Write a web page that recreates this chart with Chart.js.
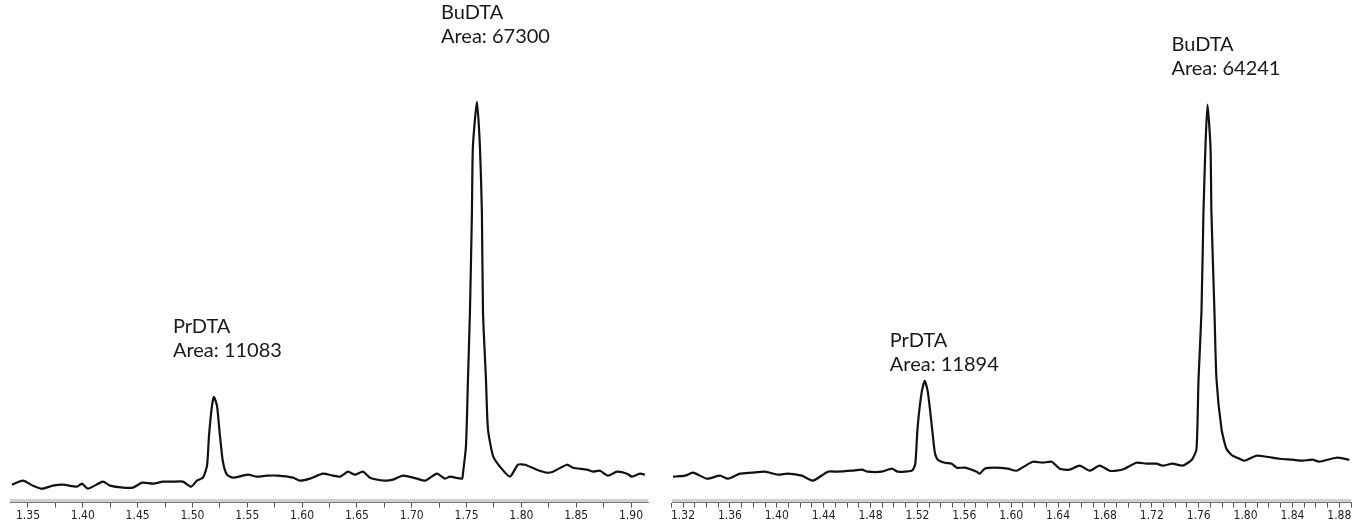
<!DOCTYPE html>
<html>
<head>
<meta charset="utf-8">
<script src="https://cdn.jsdelivr.net/npm/chart.js@4.4.1/dist/chart.umd.min.js"></script>
<style>
  html, body { margin: 0; padding: 0; background: #fff; }
  #left { position: absolute; left: 0; top: 0; width: 660px; height: 527px; }
  #right { position: absolute; left: 665px; top: 0; width: 687px; height: 527px; }
</style>
</head>
<body>
<div id="left"><canvas id="leftChart"></canvas></div>
<div id="right"><canvas id="rightChart"></canvas></div>
<script>
// retention time (min) and detector signal (a.u.)
const leftTimes = [1.3354, 1.3454, 1.3546, 1.3628, 1.3728, 1.3819, 1.3947, 1.3992, 1.4047, 1.4184,
  1.4248, 1.4366, 1.4458, 1.4540, 1.4640, 1.4731, 1.4822, 1.4914, 1.4987, 1.5041,
  1.5096, 1.5133, 1.5151, 1.5178, 1.5196, 1.5224, 1.5251, 1.5278, 1.5315, 1.5370,
  1.5506, 1.5588, 1.5680, 1.5780, 1.5917, 1.5981, 1.6072, 1.6190, 1.6282, 1.6346,
  1.6418, 1.6482, 1.6555, 1.6619, 1.6756, 1.6829, 1.6920, 1.7048, 1.7121, 1.7230,
  1.7303, 1.7349, 1.7458, 1.7467, 1.7495, 1.7513, 1.7531, 1.7549, 1.7558, 1.7595,
  1.7622, 1.7640, 1.7650, 1.7677, 1.7695, 1.7741, 1.7805, 1.7896, 1.7969, 1.8033,
  1.8142, 1.8233, 1.8288, 1.8416, 1.8470, 1.8598, 1.8653, 1.8717, 1.8790, 1.8872,
  1.8963, 1.9009, 1.9082, 1.9127];
const leftSignal = [18, 22, 17, 14, 17, 18, 16, 19, 14, 21,
  17, 15, 15, 20, 19, 21, 21, 21, 16, 22,
  25, 37, 67, 97, 106, 97, 67, 41, 28, 25,
  28, 26, 27, 27, 25, 22, 24, 29, 27, 26,
  31, 28, 31, 25, 22, 23, 27, 24, 22, 29,
  24, 26, 24, 29, 57, 124, 191, 291, 357, 402,
  357, 291, 191, 124, 74, 47, 36, 26, 38, 38,
  33, 30, 31, 38, 35, 33, 31, 32, 27, 31,
  29, 26, 29, 28];

const rightTimes = [1.3115, 1.3217, 1.3285, 1.3405, 1.3515, 1.3584, 1.3686, 1.3788, 1.3899, 1.4010,
  1.4095, 1.4214, 1.4308, 1.4436, 1.4521, 1.4641, 1.4726, 1.4777, 1.4896, 1.4982,
  1.5033, 1.5152, 1.5178, 1.5186, 1.5203, 1.5237, 1.5263, 1.5289, 1.5323, 1.5348,
  1.5374, 1.5434, 1.5493, 1.5536, 1.5604, 1.5706, 1.5732, 1.5774, 1.5860, 1.5971,
  1.6047, 1.6184, 1.6269, 1.6346, 1.6414, 1.6499, 1.6584, 1.6670, 1.6755, 1.6840,
  1.6900, 1.6968, 1.7070, 1.7156, 1.7241, 1.7292, 1.7377, 1.7463, 1.7522, 1.7548,
  1.7582, 1.7599, 1.7624, 1.7641, 1.7658, 1.7675, 1.7701, 1.7709, 1.7735, 1.7752,
  1.7795, 1.7837, 1.7889, 1.7948, 1.7991, 1.8093, 1.8179, 1.8289, 1.8400, 1.8485,
  1.8571, 1.8630, 1.8775, 1.8886];
const rightSignal = [26, 27, 30, 24, 27, 24, 29, 30, 31, 28,
  29, 27, 22, 31, 31, 32, 33, 31, 31, 34,
  31, 32, 37, 44, 77, 111, 122, 111, 77, 51,
  43, 40, 39, 35, 35, 31, 29, 34, 35, 34,
  32, 41, 40, 41, 34, 33, 37, 32, 37, 32,
  32, 34, 40, 39, 39, 37, 39, 37, 41, 44,
  54, 124, 191, 291, 357, 399, 357, 291, 191, 124,
  74, 54, 47, 44, 42, 47, 46, 44, 43, 42,
  43, 41, 45, 43];

const leftTickLabels = ['1.35', '1.40', '1.45', '1.50', '1.55', '1.60', '1.65', '1.70', '1.75', '1.80', '1.85', '1.90'];
const rightTickLabels = ['1.32', '1.36', '1.40', '1.44', '1.48', '1.52', '1.56', '1.60', '1.64', '1.68', '1.72', '1.76', '1.80', '1.84', '1.88'];

const leftPeakNames = ['PrDTA', 'BuDTA'];
const leftPeakAreas = [11083, 67300];
const leftPeakTimes = [1.5196, 1.7595];
const rightPeakNames = ['PrDTA', 'BuDTA'];
const rightPeakAreas = [11894, 64241];
const rightPeakTimes = [1.5263, 1.7675];

function tickMarks(labels, step, extraBefore, extraAfter) {
  const first = parseFloat(labels[0]);
  const last = parseFloat(labels[labels.length - 1]);
  const out = [];
  const n = Math.round((last - first) / step);
  for (let i = -extraBefore; i <= n + extraAfter; i++) {
    out.push({ value: +(first + i * step).toFixed(4) });
  }
  return out;
}

const peakLabelPlugin = {
  id: 'peakLabels',
  afterDatasetsDraw(chart, args, opts) {
    const ctx = chart.ctx;
    const x = chart.scales.x;
    ctx.save();
    ctx.font = '20px Lato, "Open Sans", sans-serif';
    ctx.fillStyle = '#1a1a1a';
    ctx.textBaseline = 'alphabetic';
    ctx.textAlign = 'left';
    opts.names.forEach((name, i) => {
      const px = x.getPixelForValue(opts.times[i]) + opts.dx[i];
      const py = opts.baselines[i];
      ctx.fillText(name, px, py);
      ctx.fillText('Area: ' + opts.areas[i], px, py + 24);
    });
    ctx.restore();
  }
};

const axisBandPlugin = {
  id: 'axisBand',
  afterDraw(chart) {
    const ctx = chart.ctx;
    const a = chart.chartArea;
    ctx.save();
    ctx.strokeStyle = '#cfcfcf';
    ctx.lineWidth = 3;
    ctx.beginPath();
    ctx.moveTo(a.left, a.bottom - 2);
    ctx.lineTo(a.right, a.bottom - 2);
    ctx.stroke();
    ctx.restore();
  }
};

function makeChart(id, times, signal, tickLabels, step, marksBefore, marksAfter, xmin, xmax, padLeft, padRight, peaks) {
  const labelSet = tickLabels.map(Number);
  return new Chart(document.getElementById(id), {
    type: 'line',
    data: {
      datasets: [{
        data: times.map((t, i) => ({ x: t, y: signal[i] })),
        borderColor: '#111',
        borderWidth: 2.2,
        pointRadius: 0,
        tension: 0.2,
        borderJoinStyle: 'round',
        fill: false
      }]
    },
    options: {
      responsive: true,
      maintainAspectRatio: false,
      animation: false,
      layout: { padding: { left: padLeft, right: padRight, top: 4, bottom: 3 } },
      plugins: {
        legend: { display: false },
        tooltip: { enabled: false },
        peakLabels: peaks
      },
      scales: {
        x: {
          type: 'linear',
          min: xmin,
          max: xmax,
          afterBuildTicks: scale => { scale.ticks = tickMarks(tickLabels, step, marksBefore, marksAfter); },
          ticks: {
            autoSkip: false,
            maxRotation: 0,
            padding: 1,
            color: '#222',
            font: { family: '"Liberation Sans Narrow", "DejaVu Sans Condensed", sans-serif', size: 12 },
            callback: v => {
              const k = labelSet.findIndex(l => Math.abs(l - v) < 1e-6);
              return k >= 0 ? tickLabels[k] : '';
            }
          },
          grid: { drawOnChartArea: false, drawTicks: true, tickLength: 5, color: '#555' },
          border: { display: true, color: '#777', width: 1 }
        },
        y: { display: false, min: 0, max: 500 }
      }
    },
    plugins: [peakLabelPlugin, axisBandPlugin]
  });
}

makeChart('leftChart', leftTimes, leftSignal, leftTickLabels, 0.025, 0, 0, 1.3336, 1.9155, 10, 12, {
  names: leftPeakNames, areas: leftPeakAreas, times: leftPeakTimes,
  dx: [-41, -36], baselines: [333, 19]
});
makeChart('rightChart', rightTimes, rightSignal, rightTickLabels, 0.01, 1, 1, 1.3106, 1.8903, 7, 0, {
  names: rightPeakNames, areas: rightPeakAreas, times: rightPeakTimes,
  dx: [-35, -36], baselines: [347, 51]
});
</script>
</body>
</html>
